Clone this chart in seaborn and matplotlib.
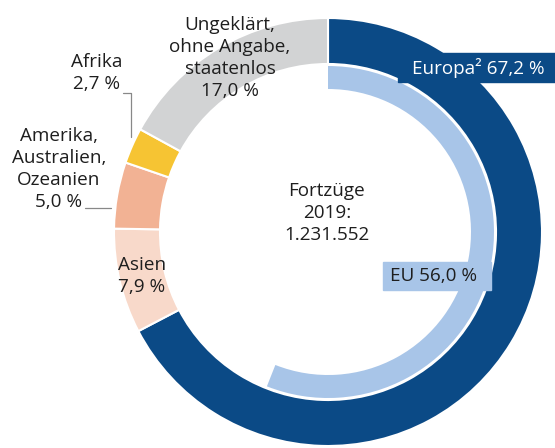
import matplotlib
matplotlib.use('Agg')
import matplotlib.pyplot as plt
import seaborn as sns
from matplotlib.patches import Rectangle

# Fortzüge 2019 nach Herkunftsregion (Anteile in %)
regions = ['Europa', 'Asien', 'Amerika, Australien, Ozeanien', 'Afrika',
           'Ungeklärt, ohne Angabe, staatenlos']
shares = [67.2, 7.9, 5.0, 2.7, 17.0]
eu_share = 56.0
total = '1.231.552'
year = 2019

colors = ['#0b4a86', '#f8d9ca', '#f2b294', '#f6c433', '#d2d3d4']
eu_color = '#a8c5e8'
navy = '#0b4a86'
text_col = '#1e1e1e'

sns.set_style('white')
plt.rcParams['font.family'] = ['Open Sans', 'DejaVu Sans']

W, H = 555, 448
fig = plt.figure(figsize=(W / 100, H / 100), dpi=100)
ax = fig.add_axes([0, 0, 1, 1])

cx, cy = 328, H - 232
R_out, w_out = 214, 46
R_in, w_in = 166, 23


def pct(v):
    return f'{v:.1f}'.replace('.', ',') + ' %'


# outer ring
ax.pie(shares, colors=colors, startangle=90, counterclock=False,
       radius=R_out, center=(cx, cy), normalize=True,
       wedgeprops=dict(width=w_out, edgecolor='white', linewidth=1.5))

# inner ring (EU part of Europa)
ax.pie([eu_share, 100 - eu_share], colors=[eu_color, 'none'], startangle=90,
       counterclock=False, radius=R_in, center=(cx, cy),
       wedgeprops=dict(width=w_in, edgecolor='none'))

ax.set_xlim(0, W)
ax.set_ylim(0, H)
ax.set_aspect('auto')
ax.axis('off')

fs = 13.6
ls = 1.3

# Europa label box
ax.add_patch(Rectangle((398, H - 82), W - 398, 29, color=navy, zorder=3))
ax.text(412, H - 68, f'Europa² {pct(shares[0])}', color='white', fontsize=fs,
        ha='left', va='center', zorder=4)

# EU label box
ax.add_patch(Rectangle((383, H - 290), 108, 28, color=eu_color, zorder=3))
ax.text(390, H - 276, f'EU {pct(eu_share)}', color=text_col, fontsize=fs,
        ha='left', va='center', zorder=4)

# centre text
ax.text(327, H - 213, f'Fortzüge\n{year}:\n{total}', color=text_col,
        fontsize=fs, ha='center', va='center', linespacing=ls)

# other labels
ax.text(230, H - 58, 'Ungeklärt,\nohne Angabe,\nstaatenlos\n' + pct(shares[4]),
        color=text_col, fontsize=fs, ha='center', va='center', linespacing=ls)
ax.text(97, H - 73, 'Afrika\n' + pct(shares[3]), color=text_col, fontsize=fs,
        ha='center', va='center', linespacing=ls)
ax.text(59, H - 169, 'Amerika,\nAustralien,\nOzeanien\n' + pct(shares[2]),
        color=text_col, fontsize=fs, ha='center', va='center', linespacing=ls)
ax.text(142, H - 276, 'Asien\n' + pct(shares[1]), color=text_col, fontsize=fs,
        ha='center', va='center', linespacing=ls)

# leader lines
ax.plot([123, 131, 131], [H - 93, H - 93, H - 137], color='#888888', lw=0.9)
ax.plot([85, 111], [H - 208, H - 208], color='#888888', lw=0.9)

fig.savefig('out.png', dpi=100)
